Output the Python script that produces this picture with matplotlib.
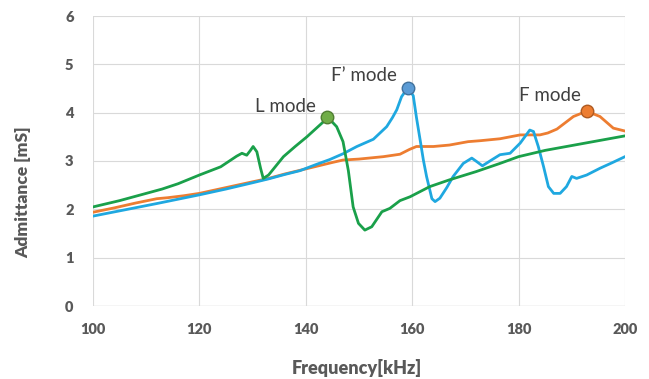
import matplotlib
matplotlib.use("Agg")
import matplotlib.pyplot as plt

# ---- data ----
green_f = [100, 105, 110, 113, 116, 120, 124, 127, 128, 128.9, 129.6, 130.1, 130.8, 131.5, 132, 133,
           135.8, 138, 140.2, 143.3, 144, 145.8, 147, 148, 148.9, 149.9, 151.1, 152.4, 154.3, 155.8,
           157.7, 159.6, 163.3, 167, 172, 176.5, 180, 185, 190, 195, 200]
green_v = [2.05, 2.18, 2.33, 2.42, 2.53, 2.71, 2.88, 3.10, 3.16, 3.12, 3.22, 3.30, 3.19, 2.85, 2.64, 2.71,
           3.09, 3.30, 3.50, 3.81, 3.92, 3.71, 3.40, 2.80, 2.05, 1.71, 1.57, 1.64, 1.95, 2.02,
           2.18, 2.26, 2.47, 2.61, 2.78, 2.95, 3.09, 3.22, 3.32, 3.42, 3.52]

orange_f = [100, 104, 108, 112, 114, 117, 120, 125, 130, 133, 136, 139, 142, 145, 147, 150, 154.6,
            157.7, 159.5, 160.8, 164, 167, 170.5, 172.8, 176.5, 180.3, 184, 185.5, 187.2, 190.3,
            192.8, 195.3, 197.8, 200]
orange_v = [1.94, 2.03, 2.13, 2.22, 2.24, 2.28, 2.33, 2.45, 2.57, 2.64, 2.73, 2.81, 2.89, 2.97, 3.02,
            3.04, 3.09, 3.14, 3.24, 3.30, 3.30, 3.33, 3.40, 3.42, 3.46, 3.54, 3.54, 3.58, 3.66, 3.92,
            4.03, 3.92, 3.68, 3.62]

blue_f = [100, 106, 112, 116, 120, 125, 130, 133, 136, 138.9, 142, 144.5, 147, 149.6, 152.7, 155.2,
          156.3, 157.1, 158, 159.2, 160.2, 160.8, 161.5, 162.1, 162.7, 163.7, 164.3, 165.2, 166.5,
          167.7, 169.6, 171.2, 172.1, 173.2, 174.9, 176.5, 178.4, 180.3, 182.1, 182.8, 183.7, 184.7,
          185.6, 186.6, 187.8, 189, 190, 190.9, 192.8, 195.3, 197.5, 200]
blue_v = [1.86, 1.99, 2.12, 2.21, 2.30, 2.42, 2.55, 2.63, 2.72, 2.80, 2.93, 3.03, 3.15, 3.30, 3.45, 3.71,
          3.90, 4.06, 4.33, 4.52, 4.35, 3.90, 3.43, 3.02, 2.68, 2.22, 2.16, 2.23, 2.45,
          2.68, 2.95, 3.06, 2.99, 2.90, 3.02, 3.13, 3.16, 3.37, 3.64, 3.61, 3.30, 2.88,
          2.47, 2.33, 2.33, 2.47, 2.68, 2.64, 2.71, 2.85, 2.96, 3.09]

mode_labels = ["L mode", "F\u2019 mode", "F mode"]
mode_f = [144.0, 159.2, 192.8]
mode_v = [3.92, 4.52, 4.03]

x_ticks = [100, 120, 140, 160, 180, 200]
y_ticks = [0, 1, 2, 3, 4, 5, 6]

# ---- figure ----
fig = plt.figure(figsize=(6.49, 3.79), dpi=100)
ax = fig.add_axes([93 / 649, 73 / 379, 532 / 649, 290 / 379])

ax.plot(orange_f, orange_v, color="#ED7D31", lw=2.0, zorder=3, solid_joinstyle="round")
ax.plot(blue_f, blue_v, color="#1FA8E0", lw=2.0, zorder=4, solid_joinstyle="round")
ax.plot(green_f, green_v, color="#1AA04A", lw=2.0, zorder=5, solid_joinstyle="round")

m_face = ["#70AD47", "#5B9BD5", "#ED7D31"]
m_edge = ["#507E32", "#41719C", "#AE5A21"]
offsets = [(-30, 7), (-31.5, 8.5), (-26.5, 11.5)]
for lab, f, v, fc, ec, off in zip(mode_labels, mode_f, mode_v, m_face, m_edge, offsets):
    ax.plot([f], [v], "o", ms=9, mfc=fc, mec=ec, mew=1.0, zorder=6)
    ax.annotate(lab, (f, v), xytext=off, textcoords="offset points",
                ha="center", va="center", fontsize=13.5, color="#404040", family="Lato")

ax.set_xlim(100, 200)
ax.set_ylim(0, 6)
ax.set_xticks(x_ticks)
ax.set_yticks(y_ticks)
ax.grid(True, color="#D9D9D9", lw=0.8)
ax.set_axisbelow(True)
for s in ax.spines.values():
    s.set_visible(False)
ax.axhline(0, color="#D9D9D9", lw=1.0, zorder=1)
ax.tick_params(axis="x", length=0, pad=12, labelsize=10.5, labelcolor="#595959")
ax.tick_params(axis="y", length=0, pad=14, labelsize=10.5, labelcolor="#595959")
for t in ax.get_xticklabels() + ax.get_yticklabels():
    t.set_fontweight("heavy")
    t.set_family("Lato")

ax.set_xlabel("Frequency[kHz]", fontsize=13, fontweight="heavy", color="#595959", family="Lato")
ax.set_ylabel("Admittance [mS]", fontsize=12.5, fontweight="heavy", color="#595959", family="Lato")
ax.xaxis.set_label_coords((357 - 93) / 532, (306 - 359) / 290)
ax.yaxis.set_label_coords((31 - 93) / 532, (306 - 192) / 290)

fig.savefig("out.png", dpi=100)
